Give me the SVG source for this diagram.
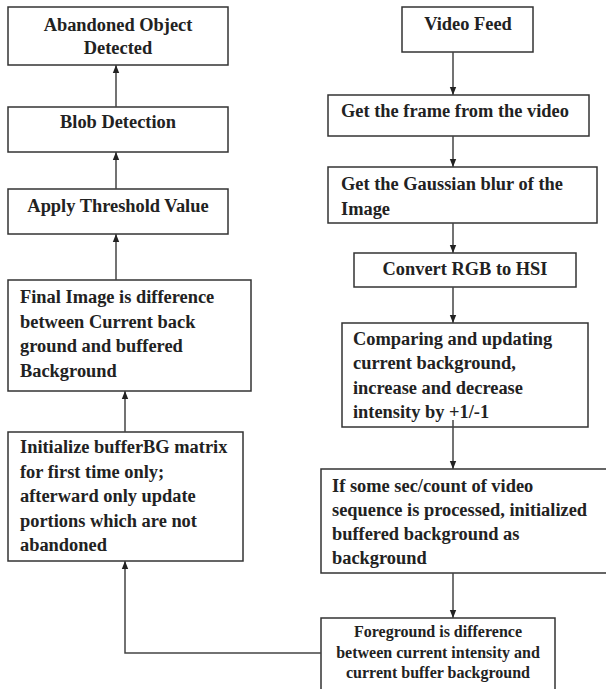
<svg xmlns="http://www.w3.org/2000/svg" width="606" height="689" viewBox="0 0 606 689">
<style>
.box{fill:#fff;stroke:#333;stroke-width:1.5}
.t{font-family:"Liberation Serif","Times New Roman","DejaVu Serif",serif;font-weight:bold;font-size:18.4px;fill:#222}
.s{font-size:16px}
.c{text-anchor:middle}
.ln{fill:none;stroke:#444;stroke-width:1.5}
</style>
<defs>
<marker id="ah" viewBox="0 0 8 8" refX="8" refY="4" markerWidth="8" markerHeight="8" markerUnits="userSpaceOnUse" orient="auto">
<path d="M0,0.8 L8,4 L0,7.2 Z" fill="#222"/>
</marker>
</defs>
<rect width="606" height="689" fill="#fff"/>
<g id="abandoned">
<rect class="box" x="8" y="7" width="220" height="58"/>
<text class="t c" x="118" y="31">Abandoned Object</text>
<text class="t c" x="118" y="54">Detected</text>
</g>
<g id="blob">
<rect class="box" x="8" y="107" width="220" height="45"/>
<text class="t c" x="118" y="128">Blob Detection</text>
</g>
<g id="threshold">
<rect class="box" x="8" y="189" width="220" height="45"/>
<text class="t c" x="118" y="212">Apply Threshold Value</text>
</g>
<g id="final">
<rect class="box" x="8" y="280" width="243" height="111"/>
<text class="t" x="20" y="303">Final Image is difference</text>
<text class="t" x="20" y="327.5">between Current back</text>
<text class="t" x="20" y="352">ground and buffered</text>
<text class="t" x="20" y="376.5">Background</text>
</g>
<g id="initialize">
<rect class="box" x="8" y="432" width="235" height="129"/>
<text class="t" x="20" y="453">Initialize bufferBG matrix</text>
<text class="t" x="20" y="477.5">for first time only;</text>
<text class="t" x="20" y="502">afterward only update</text>
<text class="t" x="20" y="526.5">portions which are not</text>
<text class="t" x="20" y="551">abandoned</text>
</g>
<g id="video">
<rect class="box" x="402" y="7" width="131" height="45"/>
<text class="t c" x="468" y="30">Video Feed</text>
</g>
<g id="frame">
<rect class="box" x="328" y="95" width="261" height="41"/>
<text class="t" x="341" y="117">Get the frame from the video</text>
</g>
<g id="gaussian">
<rect class="box" x="328" y="167" width="269" height="56"/>
<text class="t" x="341" y="190">Get the Gaussian blur of the</text>
<text class="t" x="341" y="215">Image</text>
</g>
<g id="convert">
<rect class="box" x="354" y="253" width="222" height="34"/>
<text class="t c" x="465" y="275">Convert RGB to HSI</text>
</g>
<g id="comparing">
<rect class="box" x="342" y="323" width="246" height="104"/>
<text class="t" x="353" y="345">Comparing and updating</text>
<text class="t" x="353" y="369">current background,</text>
<text class="t" x="353" y="393.5">increase and decrease</text>
<text class="t" x="353" y="418">intensity by +1/-1</text>
</g>
<g id="buffered">
<rect class="box" x="321" y="469" width="290" height="104"/>
<text class="t" x="332" y="492">If some sec/count of video</text>
<text class="t" x="332" y="516">sequence is processed, initialized</text>
<text class="t" x="332" y="540">buffered background as</text>
<text class="t" x="332" y="563.5">background</text>
</g>
<g id="foreground">
<rect class="box" x="321" y="618" width="234" height="90"/>
<text class="t s c" x="438" y="637">Foreground is difference</text>
<text class="t s c" x="438" y="657.5">between current intensity and</text>
<text class="t s c" x="438" y="678">current buffer background</text>
</g>
<g id="connectors">
<line class="ln" x1="116" y1="107" x2="116" y2="65" marker-end="url(#ah)"/>
<line class="ln" x1="116" y1="189" x2="116" y2="152" marker-end="url(#ah)"/>
<line class="ln" x1="116" y1="280" x2="116" y2="234" marker-end="url(#ah)"/>
<line class="ln" x1="125" y1="432" x2="125" y2="391" marker-end="url(#ah)"/>
<polyline class="ln" points="321,653 125,653 125,561" marker-end="url(#ah)"/>
<line class="ln" x1="453" y1="52" x2="453" y2="95" marker-end="url(#ah)"/>
<line class="ln" x1="453" y1="136" x2="453" y2="167" marker-end="url(#ah)"/>
<line class="ln" x1="453" y1="223" x2="453" y2="253" marker-end="url(#ah)"/>
<line class="ln" x1="453" y1="287" x2="453" y2="323" marker-end="url(#ah)"/>
<line class="ln" x1="453" y1="420" x2="453" y2="469" marker-end="url(#ah)"/>
<line class="ln" x1="453" y1="573" x2="453" y2="618" marker-end="url(#ah)"/>
</g>
</svg>
